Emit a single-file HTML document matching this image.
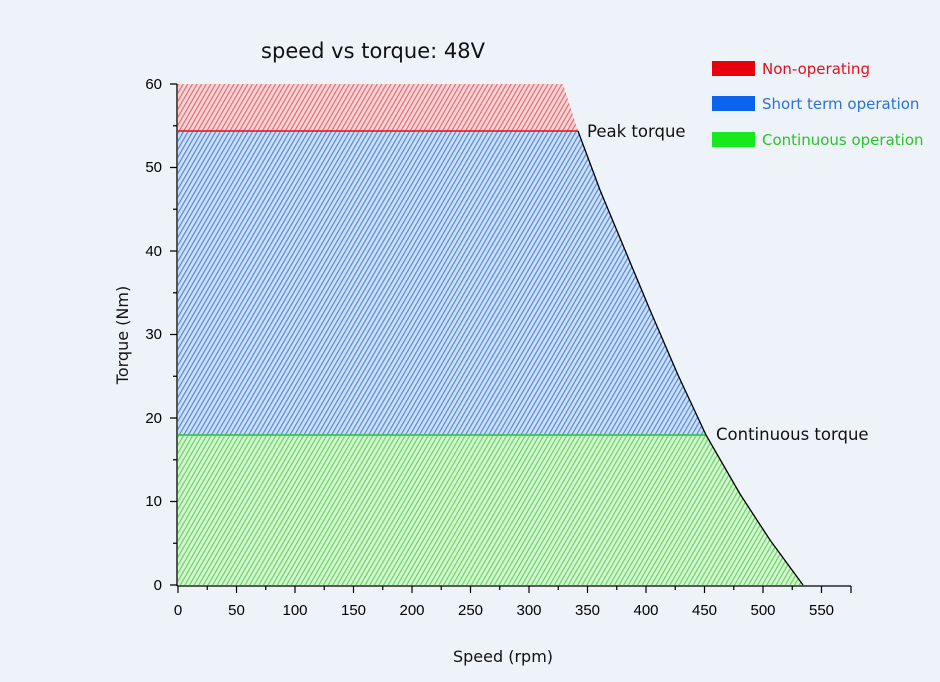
<!DOCTYPE html>
<html><head><meta charset="utf-8"><style>
body{margin:0;background:#eef2f9;}
svg{display:block;font-family:"DejaVu Sans","Liberation Sans",sans-serif;}
</style></head><body>
<svg width="940" height="682" viewBox="0 0 940 682">
<defs>
<pattern id="pr" width="4" height="4" patternUnits="userSpaceOnUse" patternTransform="rotate(30)">
<rect width="4" height="4" fill="#fad6d9"/><rect width="1.3" height="4" fill="#e0737a"/></pattern>
<pattern id="pb" width="4" height="4" patternUnits="userSpaceOnUse" patternTransform="rotate(30)">
<rect width="4" height="4" fill="#cfe0f6"/><rect width="1.3" height="4" fill="#5b8fd8"/></pattern>
<pattern id="pg" width="4" height="4" patternUnits="userSpaceOnUse" patternTransform="rotate(30)">
<rect width="4" height="4" fill="#d6f7d3"/><rect width="1.3" height="4" fill="#6fd46a"/></pattern>
</defs>
<rect width="940" height="682" fill="#eef2f9"/>
<text x="373" y="58" font-size="21" text-anchor="middle" fill="#111">speed vs torque: 48V</text>
<polygon points="178,84 563,84 578,131 178,131" fill="url(#pr)"/>
<polygon points="178,131 578,131 600,190 625,250 650,310 678,375 706,435 178,435" fill="url(#pb)"/>
<polygon points="178,435 706,435 740,494 770,540 803,585 178,585" fill="url(#pg)"/>
<line x1="178" y1="131" x2="578" y2="131" stroke="#e0101c" stroke-width="1.5"/>
<line x1="178" y1="435" x2="706" y2="435" stroke="#22c33a" stroke-width="1.5"/>
<polyline points="578,131 600,190 625,250 650,310 678,375 706,435 740,494 770,540 803,585" fill="none" stroke="#000" stroke-width="1.3"/>
<g stroke="#000" stroke-width="1.3">
<line x1="177" y1="84" x2="177" y2="586"/>
<line x1="177" y1="586" x2="851" y2="586"/>
</g>
<g font-size="15" fill="#000" text-anchor="middle" font-family="Liberation Sans, sans-serif">
<text x="178" y="615">0</text><text x="236.5" y="615">50</text><text x="295" y="615">100</text><text x="353.5" y="615">150</text><text x="412" y="615">200</text><text x="470.5" y="615">250</text><text x="529" y="615">300</text><text x="587.5" y="615">350</text><text x="646" y="615">400</text><text x="704.5" y="615">450</text><text x="763" y="615">500</text><text x="821.5" y="615">550</text>
</g>
<g font-size="15" fill="#000" text-anchor="end" font-family="Liberation Sans, sans-serif">
<text x="162" y="590">0</text><text x="162" y="506">10</text><text x="162" y="423">20</text><text x="162" y="339">30</text><text x="162" y="256">40</text><text x="162" y="172">50</text><text x="162" y="89">60</text>
</g>
<text x="503" y="662" font-size="16" text-anchor="middle" fill="#111">Speed (rpm)</text>
<text transform="translate(128,335) rotate(-90)" font-size="16" text-anchor="middle" fill="#111">Torque (Nm)</text>
<text x="587" y="137" font-size="16.5" fill="#111">Peak torque</text>
<text x="716" y="440" font-size="16.5" fill="#111">Continuous torque</text>
<rect x="712" y="61" width="43" height="15" fill="#e8000d"/>
<text x="762" y="74" font-size="15" fill="#e0101c">Non-operating</text>
<rect x="712" y="96" width="43" height="15" fill="#0a64f0"/>
<text x="762" y="109" font-size="15" fill="#2a72d8">Short term operation</text>
<rect x="712" y="132" width="43" height="15" fill="#16ea1e"/>
<text x="762" y="145" font-size="15" fill="#2ac32a">Continuous operation</text>
<g stroke="#000" stroke-width="1.2">
<path d="M178 586v7M236.5 586v7M295 586v7M353.5 586v7M412 586v7M470.5 586v7M529 586v7M587.5 586v7M646 586v7M704.5 586v7M763 586v7M821.5 586v7M851 586v7"/>
<path d="M207.25 586v4M265.75 586v4M324.25 586v4M382.75 586v4M441.25 586v4M499.75 586v4M558.25 586v4M616.75 586v4M675.25 586v4M733.75 586v4M792.25 586v4"/>
<path d="M177 585h-7M177 501.5h-7M177 418h-7M177 334.5h-7M177 251h-7M177 167.5h-7M177 84h-7"/>
<path d="M177 543.25h-4M177 459.75h-4M177 376.25h-4M177 292.75h-4M177 209.25h-4M177 125.75h-4"/>
</g>
</svg>
</body></html>
